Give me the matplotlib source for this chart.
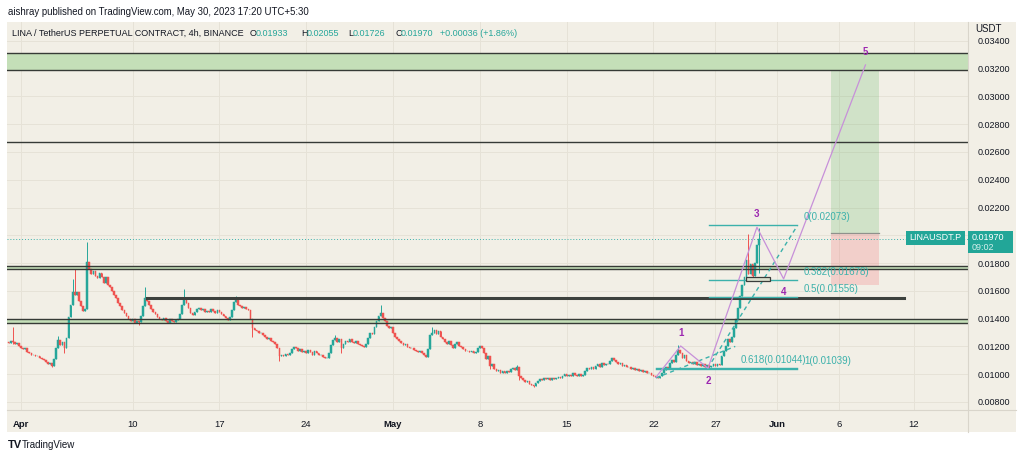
import numpy as np
import matplotlib.pyplot as plt
from matplotlib.patches import Rectangle
from matplotlib.lines import Line2D
from matplotlib.ticker import FixedLocator, FormatStrFormatter

plt.rcParams['font.family'] = ['Liberation Sans', 'DejaVu Sans']

W, H = 1024, 458
BG = '#f2efe6'
GRID = '#e6e2d7'
SEP = '#d9d5cb'
UP, DOWN = '#26a69a', '#ef5350'
TEAL = '#3cb1ab'
WAVE = '#c790d9'
WAVE_TXT = '#9c27b0'
ZONE_FILL = '#c4dfb8'
ZONE_LINE = '#363a36'
INK = '#131722'

# ---- data -------------------------------------------------------------
# 4h candles from Mar 31 00:00 (day -1 = Mar 31, day 0 = Apr 1), closes in 1e-5 USDT
first_open_e5 = 1230
close_e5 = [
    1225, 1240, 1235, 1215, 1228, 1205,
    1190, 1178, 1185, 1160, 1150, 1135,
    1140, 1128, 1132, 1118, 1112,
    1100, 1085, 1070, 1078, 1062,
    1110, 1185, 1245,
    1210, 1230, 1190,
    1260, 1415, 1500, 1595,
    1570, 1590,
    1530, 1490, 1455, 1470,
    1810,
    1760, 1720, 1745, 1705,
    1690, 1730, 1700, 1660, 1700, 1645, 1630,
    1600, 1570, 1545, 1510, 1490, 1465,
    1440, 1420, 1400, 1380, 1395, 1370, 1385, 1375,
    1420, 1490, 1545,
    1525, 1500, 1470, 1450, 1430, 1415, 1400,
    1390, 1405, 1380, 1372, 1395, 1385, 1375, 1390, 1400,
    1430, 1500, 1545, 1510,
    1480, 1440, 1425, 1450, 1470,
    1480, 1465, 1470, 1450, 1455, 1445, 1470, 1455, 1440, 1460, 1445,
    1430, 1420, 1405, 1390, 1410,
    1460, 1520, 1550, 1500,
    1490, 1475, 1485, 1470, 1460,
    1400, 1330,
    1320, 1310, 1295, 1300, 1280, 1265, 1250, 1260, 1240, 1235, 1220,
    1190, 1130, 1140,
    1130, 1145, 1135, 1150,
    1180, 1195, 1185,
    1170, 1180, 1160, 1165, 1150, 1175, 1160, 1140, 1165, 1150, 1135, 1140, 1125, 1115, 1120,
    1150, 1210, 1245, 1260, 1235, 1255,
    1185,
    1220, 1240, 1230, 1250, 1235, 1225, 1240, 1220, 1210, 1200, 1195, 1215,
    1260, 1300, 1290, 1340, 1380, 1420, 1440,
    1405, 1380,
    1350, 1330, 1340, 1300, 1270, 1250,
    1240, 1225, 1210, 1215, 1195, 1185, 1190, 1175, 1170, 1160, 1165, 1150, 1135, 1125,
    1180, 1280, 1300,
    1320, 1290, 1310,
    1270, 1250, 1235, 1220, 1240, 1210, 1190,
    1215, 1230, 1200,
    1195, 1180, 1165, 1170, 1160, 1165, 1155, 1160,
    1185, 1200, 1190,
    1150, 1110, 1130, 1060, 1070,
    1040, 1020, 1030, 1010, 1025, 1005, 1020, 1015, 1035,
    1045, 1030, 1050, 990,
    975, 960, 945, 950, 930, 920, 915,
    935, 950, 965, 955, 975, 965, 970, 960, 975, 968, 972, 980, 970,
    990, 1000, 985, 995, 990, 1005, 995, 985, 1000, 990, 995,
    1020, 1045, 1035, 1055, 1040,
    1060, 1075, 1055, 1080, 1065, 1075, 1070,
    1095, 1115, 1100,
    1085, 1070, 1080, 1060, 1065, 1050, 1055, 1040, 1045, 1030, 1035,
    1025, 1030, 1015, 1020, 1005, 1010, 995, 990, 980, 975,
    990, 1010, 1030, 1050, 1045, 1080, 1100, 1090, 1140, 1175,
    1150, 1120, 1135, 1095,
    1080, 1090, 1070, 1085, 1065, 1075, 1060, 1070, 1055, 1065, 1050, 1060, 1075, 1060, 1070, 1065,
    1130, 1170, 1200, 1250, 1230, 1265,
    1330, 1400, 1480,
    1560, 1640, 1700, 1820,
    1720, 1790, 1710, 1800, 1933, 1970,
]
# visible wicks: candle index -> (high, low) in 1e-5 USDT
wicks_e5 = {
    2: (1337, 1220), 21: (None, 1050), 24: (1275, None), 27: (None, 1150),
    31: (1683, None), 32: (1755, None), 38: (1949, None), 63: (None, 1355),
    66: (1630, None), 85: (1612, None), 110: (1560, None), 118: (None, 1265),
    131: (None, 1095), 158: (1280, None), 161: (None, 1150), 180: (1495, None),
    205: (1340, None), 233: (None, 1040), 246: (1065, None), 247: (None, 960),
    254: (None, 905), 324: (1208, None), 339: (None, 1040), 358: (2010, None),
    360: (None, 1690), 363: (2055, 1726),
}

price_ticks = [0.008, 0.010, 0.012, 0.014, 0.016, 0.018, 0.020, 0.022,
               0.024, 0.026, 0.028, 0.030, 0.032, 0.034]
date_ticks = [0, 9, 16, 23, 30, 37, 44, 51, 56, 61, 66, 72]
date_labels = ['Apr', '10', '17', '24', 'May', '8', '15', '22', '27', 'Jun', '6', '12']

zone_bands = [(0.03191, 0.03313), (0.01756, 0.01780), (0.01367, 0.01400)]
single_level = 0.02672
thick_level = 0.01546
thick_days = (10.2, 71.2)
last_price = 0.01970

wave_days = [51.2, 53.2, 55.4, 59.35, 61.5, 68.1]
wave_prices = [0.00978, 0.01203, 0.01043, 0.02058, 0.01686, 0.03227]
wave_labels = ['', '1', '2', '3', '4', '5']

fib_upper = [0.02073, 0.01678, 0.01556]
fib_upper_labels = ['0(0.02073)', '0.382(0.01678)', '0.5(0.01556)']
fib_upper_days = (55.5, 62.6)
fib_lower = [0.01044, 0.01039]
fib_lower_labels = ['0.618(0.01044)', '1(0.01039)']
fib_lower_days = (51.2, 62.6)
fib_label_days = [63.1, 63.1, 63.1]
fib_lower_label_days = [58.05, 63.15]

channel_a = ([51.2, 57.6], [0.00973, 0.01200])
channel_b = ([55.7, 62.6], [0.01089, 0.02068])

small_box = (58.5, 60.4, 0.01669, 0.01697)
position_days = (65.3, 69.2)
target, entry, stop = 0.03191, 0.02014, 0.01643

legend_texts = ['LINA / TetherUS PERPETUAL CONTRACT, 4h, BINANCE', 'O', '0.01933', 'H', '0.02055',
                'L', '0.01726', 'C', '0.01970', '+0.00036 (+1.86%)']
legend_x = [12, 250, 256, 301, 307, 348, 353, 395, 401, 440]
legend_colors = [INK, INK, UP, INK, UP, INK, UP, INK, UP, UP]


def fx(px):
    return px / W


def fy(py):
    return 1 - py / H


# ---- figure -----------------------------------------------------------
fig = plt.figure(figsize=(W / 100, H / 100), dpi=100, facecolor='white')
fig.add_artist(Rectangle((fx(7), fy(432)), fx(1016) - fx(7), fy(22) - fy(432),
                         transform=fig.transFigure, facecolor=BG, edgecolor='none', zorder=-5))

ax = fig.add_axes([fx(7), fy(410), fx(968) - fx(7), fy(22) - fy(410)])
ax.set_facecolor(BG)
for s in ax.spines.values():
    s.set_visible(False)

xlim = (-1.13, 76.37)
ylim = (0.00742, 0.03536)
ax.set_xlim(*xlim)
ax.set_ylim(*ylim)

ax.xaxis.set_major_locator(FixedLocator(date_ticks))
ax.set_xticklabels(date_labels)
for lab in ax.get_xticklabels():
    if lab.get_text() in ('Apr', 'May', 'Jun'):
        lab.set_fontweight('bold')
ax.yaxis.tick_right()
ax.yaxis.set_major_locator(FixedLocator(price_ticks))
ax.yaxis.set_major_formatter(FormatStrFormatter('%.5f'))
ax.tick_params(axis='x', length=0, pad=7, labelsize=6.8, labelcolor=INK)
ax.tick_params(axis='y', length=0, pad=7, labelsize=6.5, labelcolor=INK)
ax.grid(True, color=GRID, lw=0.7)
ax.set_axisbelow(True)

# candles
close = np.array(close_e5) / 1e5
opens = np.concatenate([[first_open_e5 / 1e5], close[:-1]])
opens[-1] = 0.01933
days = -1 + np.arange(len(close)) / 6
high = np.maximum(opens, close)
low = np.minimum(opens, close)
for i, (hi, lo) in wicks_e5.items():
    if hi is not None:
        high[i] = hi / 1e5
    if lo is not None:
        low[i] = lo / 1e5
colors = np.where(close >= opens, UP, DOWN)
ax.vlines(days, low, high, colors=colors, lw=0.7, zorder=3)
ax.bar(days, close - opens, bottom=opens, width=0.135, color=colors,
       edgecolor=colors, linewidth=0.35, zorder=3)

# position tool
ax.add_patch(Rectangle((position_days[0], entry), position_days[1] - position_days[0], target - entry,
                       facecolor='#4caf50', alpha=0.2, edgecolor='none', zorder=1))
ax.add_patch(Rectangle((position_days[0], stop), position_days[1] - position_days[0], entry - stop,
                       facecolor='#f23645', alpha=0.17, edgecolor='none', zorder=1))
ax.plot(position_days, [entry, entry], color='#8f918c', lw=0.9, zorder=2)

# zones and levels
for lo_p, hi_p in zone_bands:
    ax.fill_between(xlim, lo_p, hi_p, color=ZONE_FILL, lw=0, zorder=1.5)
    ax.axhline(lo_p, color=ZONE_LINE, lw=1.0, zorder=4)
    ax.axhline(hi_p, color=ZONE_LINE, lw=1.0, zorder=4)
ax.axhline(single_level, color=ZONE_LINE, lw=1.0, zorder=4)
ax.plot(thick_days, [thick_level, thick_level], color='#3d413d', lw=2.2, zorder=4)
ax.axhline(last_price, color=TEAL, lw=0.7, ls=(0, (1, 2)), zorder=2)

# fib levels
for p, lab, ld in zip(fib_upper, fib_upper_labels, fib_label_days):
    ax.plot(fib_upper_days, [p, p], color=TEAL, lw=1.0, zorder=5)
    ax.annotate(lab, (ld, p), xytext=(0, 8), textcoords='offset pixels',
                color=TEAL, fontsize=7, va='center', ha='left', zorder=6)
for p, lab, ld in zip(fib_lower, fib_lower_labels, fib_lower_label_days):
    ax.plot(fib_lower_days, [p, p], color=TEAL, lw=1.0, zorder=5)
    ax.annotate(lab, (ld, p), xytext=(0, 8), textcoords='offset pixels',
                color=TEAL, fontsize=7, va='center', ha='left', zorder=6)

for cx, cy in (channel_a, channel_b):
    ax.plot(cx, cy, color=TEAL, lw=1.0, ls=(0, (3, 2.5)), zorder=5)

ax.add_patch(Rectangle((small_box[0], small_box[2]), small_box[1] - small_box[0],
                       small_box[3] - small_box[2], facecolor='#d9dfcd',
                       edgecolor='#3a3d3a', lw=0.9, zorder=6))

# elliott waves
ax.plot(wave_days, wave_prices, color=WAVE, lw=0.9, zorder=5)
for k, (d, p, lab) in enumerate(zip(wave_days, wave_prices, wave_labels)):
    if not lab:
        continue
    dy = 13 if k in (1, 3, 5) else -13
    ax.annotate(lab, (d, p), xytext=(0, dy), textcoords='offset pixels', color=WAVE_TXT,
                fontsize=7, fontweight='bold', ha='center', va='center', zorder=7)

# ---- frame, headers, labels ------------------------------------------
fig.add_artist(Line2D([fx(968), fx(968)], [fy(22), fy(432)], transform=fig.transFigure,
                      color=SEP, lw=0.8))
fig.add_artist(Line2D([fx(7), fx(1016)], [fy(410), fy(410)], transform=fig.transFigure,
                      color=SEP, lw=0.8))
fig.add_artist(Rectangle((fx(969), fy(37)), fx(1016) - fx(969), fy(22) - fy(37),
                         transform=fig.transFigure, facecolor=BG, edgecolor='none', zorder=3))
fig.text(fx(975), fy(29), 'USDT', fontsize=7, color=INK, va='center', zorder=4)

fig.text(fx(8), fy(12), 'aishray published on TradingView.com, May 30, 2023 17:20 UTC+5:30',
         fontsize=6.9, color=INK, va='center')
for t, x, c in zip(legend_texts, legend_x, legend_colors):
    fig.text(fx(x), fy(33), t, fontsize=6.5, color=c, va='center')

fig.add_artist(Rectangle((fx(906), fy(245)), fx(965) - fx(906), fy(231) - fy(245),
                         transform=fig.transFigure, facecolor='#22a698', edgecolor='none', zorder=5))
fig.text(fx(935.5), fy(238), 'LINAUSDT.P', fontsize=6.5, color='white', ha='center',
         va='center', zorder=6)
fig.add_artist(Rectangle((fx(968), fy(253)), fx(1013) - fx(968), fy(231) - fy(253),
                         transform=fig.transFigure, facecolor='#22a698', edgecolor='none', zorder=5))
fig.text(fx(972), fy(238), '0.01970', fontsize=6.5, color='white', va='center', zorder=6)
fig.text(fx(972), fy(247.5), '09:02', fontsize=6.5, color='#d4efec', va='center', zorder=6)

fig.text(fx(8), fy(445), 'TV', fontsize=8, fontweight='bold', color=INK, va='center')
fig.text(fx(22), fy(445), 'TradingView', fontsize=7, color=INK, va='center')

fig.savefig('out.png', dpi=100, facecolor='white')
